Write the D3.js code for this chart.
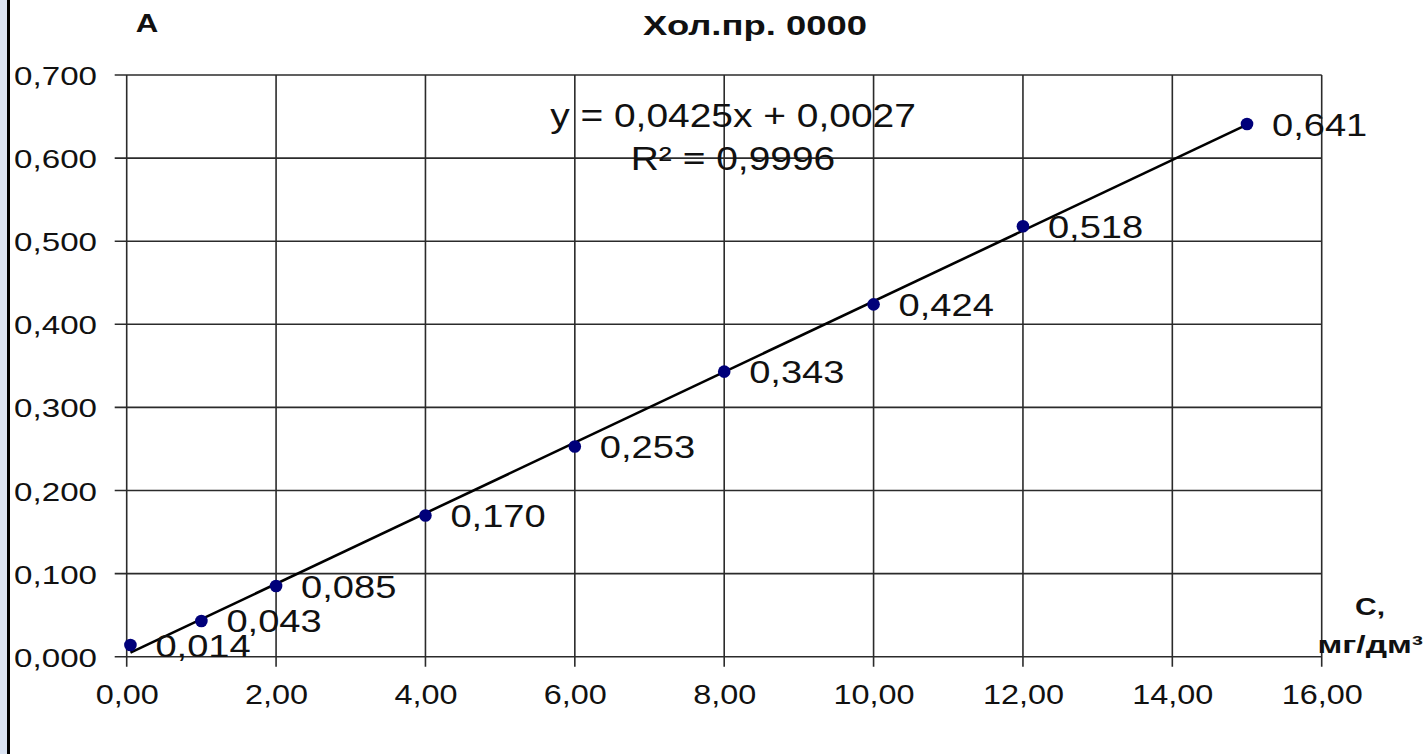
<!DOCTYPE html>
<html><head><meta charset="utf-8">
<script src="https://cdn.jsdelivr.net/npm/d3@7"></script>
<style>
html,body{margin:0;padding:0;background:#fff;overflow:hidden;}
svg{display:block;}
</style></head>
<body>
<svg id="chart" width="1425" height="754"></svg>
<script>
// ---- data ----
const concentrations = [0.05, 1, 2, 4, 6, 8, 10, 12, 15];
const absorbance = [0.014, 0.043, 0.085, 0.170, 0.253, 0.343, 0.424, 0.518, 0.641];
const xTicks = [0, 2, 4, 6, 8, 10, 12, 14, 16];
const yTicks = [0, 0.1, 0.2, 0.3, 0.4, 0.5, 0.6, 0.7];
const trendSlope = 0.0425;
const trendIntercept = 0.0027;
const titleText = "Хол.пр. 0000";
const yAxisLabel = "A";
const xAxisLabel = ["С,", "мг/дм³"];
const equationLines = ["y = 0,0425x + 0,0027", "R² = 0,9996"];

// ---- layout ----
const W = 1425, H = 754;
const margin = {left: 126.7, right: W - 1321.7, top: 75, bottom: H - 656.7};
const svg = d3.select("#chart");
const loc = d3.formatLocale({decimal: ",", thousands: " ", grouping: [3], currency: ["", ""]});
const f3 = loc.format(".3f"), f2 = loc.format(".2f");

const x = d3.scaleLinear().domain([0, 16]).range([margin.left, W - margin.right]);
const y = d3.scaleLinear().domain([0, 0.7]).range([H - margin.bottom, margin.top]);

// left frame strip
svg.append("rect").attr("x", 0).attr("y", 0).attr("width", 7).attr("height", H).attr("fill", "#dae3f3");
svg.append("rect").attr("x", 7).attr("y", 0).attr("width", 3).attr("height", H).attr("fill", "#000");

const font = "Liberation Sans, Arial, sans-serif";
function stext(g, str, tx, ty, size, sx, anchor, weight) {
  return g.append("text")
    .attr("transform", `translate(${tx},${ty}) scale(${sx},1)`)
    .attr("text-anchor", anchor)
    .attr("font-family", font)
    .attr("font-size", size)
    .attr("font-weight", weight || "normal")
    .attr("fill", "#111")
    .text(str);
}

// grid
const grid = svg.append("g").attr("stroke", "#2b2b2b").attr("stroke-width", 1.6);
grid.selectAll("line.h").data(yTicks).join("line")
  .attr("x1", x(0) - 12).attr("x2", x(16)).attr("y1", d => y(d)).attr("y2", d => y(d));
grid.selectAll("line.v").data(xTicks).join("line")
  .attr("y1", y(0.7)).attr("y2", y(0) + 10).attr("x1", d => x(d)).attr("x2", d => x(d));

// axes via d3 (labels only, lines drawn above)
const yAxis = svg.append("g").attr("transform", `translate(${x(0)},0)`)
  .call(d3.axisLeft(y).tickValues(yTicks).tickSize(0).tickFormat(f3));
yAxis.select(".domain").remove();
yAxis.selectAll("text").remove();
yAxis.selectAll(".tick").each(function(d) {
  stext(d3.select(this), f3(d), 97 - x(0), 9.5, 26.5, 1.25, "end");
});
const xAxis = svg.append("g").attr("transform", `translate(0,${y(0)})`)
  .call(d3.axisBottom(x).tickValues(xTicks).tickSize(0).tickFormat(f2));
xAxis.select(".domain").remove();
xAxis.selectAll("text").remove();
xAxis.selectAll(".tick").each(function(d) {
  stext(d3.select(this), f2(d), 0, 47.5, 27, 1.2, "middle");
});

// trend line
const xs = [concentrations[0], concentrations[concentrations.length - 1]];
svg.append("path")
  .datum(xs)
  .attr("fill", "none").attr("stroke", "#000").attr("stroke-width", 2.6)
  .attr("d", d3.line().x(d => x(d)).y(d => y(trendSlope * d + trendIntercept)));

// points
const pts = concentrations.map((c, i) => ({c, a: absorbance[i]}));
svg.selectAll("circle.pt").data(pts).join("circle")
  .attr("cx", d => x(d.c)).attr("cy", d => y(d.a)).attr("r", 6.3)
  .attr("fill", "#00007a");

// data labels
const lab = svg.append("g");
pts.forEach(d => stext(lab, f3(d.a), x(d.c) + 25, y(d.a) + 11.5, 32, 1.19, "start"));

// equation
stext(svg, equationLines[0], 733, 127, 33, 1.18, "middle");
stext(svg, equationLines[1], 733, 170, 33, 1.18, "middle");

// titles
stext(svg, titleText, 755, 35, 28, 1.3, "middle", "bold");
stext(svg, yAxisLabel, 147, 32, 26, 1.2, "middle", "bold");
stext(svg, xAxisLabel[0], 1370, 615, 24, 1.25, "middle", "bold");
stext(svg, xAxisLabel[1], 1423, 653, 24, 1.4, "end", "bold");
</script>
</body></html>
